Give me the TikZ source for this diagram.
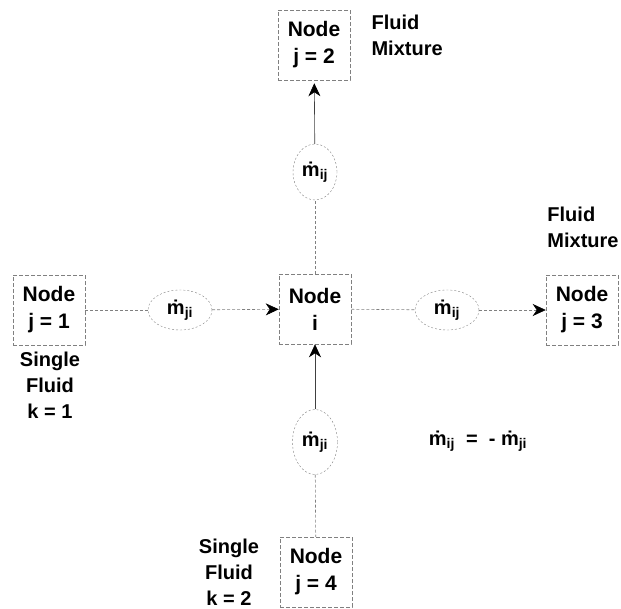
\documentclass[tikz,border=0pt]{standalone}
\usepackage{fontspec}
\setmainfont{Liberation Sans}
\usetikzlibrary{
    arrows.meta,
    shapes.geometric,
    positioning
}
\newcommand{\mflow}[1]{\.{m}\textsubscript{#1}}

\begin{document}
\begin{tikzpicture}[x=1pt, y=-1pt,
    box/.style={draw=gray, dash pattern=on 4pt off 2pt, line width=0.5pt, align=center,
        minimum width=72pt, minimum height=70pt, inner sep=2pt,
        font=\fontsize{21}{27}\selectfont\bfseries},
    flow/.style={draw=gray, dash pattern=on 2pt off 2pt, ellipse, inner sep=0pt,
        font=\fontsize{20}{22}\selectfont\bfseries},
    lbl/.style={align=center, font=\fontsize{20}{26}\selectfont\bfseries},
    pipe/.style={draw=gray, dash pattern=on 3pt off 2pt, line width=0.6pt},
    feed/.style={draw=black!75, line width=0.6pt},
    tip/.style={-{Stealth[black, length=13pt, width=12pt, inset=4pt]}}
]
    \useasboundingbox (0,0) rectangle (621,608);
    \node[box] (i) at (315,309) {Node\\i};
    \node[box] (j1) at (49,310) {Node\\j = 1};
    \node[box] (j2) at (314,45) {Node\\j = 2};
    \node[box] (j3) at (582,310) {Node\\j = 3};
    \node[box] (j4) at (316,572) {Node\\j = 4};
    \node[flow, minimum width=64pt, minimum height=40pt] (m1) at (180,310) {\mflow{ji}};
    \node[flow, minimum width=44pt, minimum height=56pt] (m2) at (315,172) {\mflow{ij}};
    \node[flow, minimum width=64pt, minimum height=40pt] (m3) at (447,310) {\mflow{ij}};
    \node[flow, minimum width=45pt, minimum height=65pt] (m4) at (315,442) {\mflow{ji}};
    \node[lbl, align=left, anchor=west] (fluid2) at (368,35) {Fluid\\Mixture};
    \node[lbl, align=left] (fluid3) at (583,227) {Fluid\\Mixture};
    \node[lbl] (single1) at (50,385) {Single\\Fluid\\k = 1};
    \node[lbl] (single4) at (229,572) {Single\\Fluid\\k = 2};
    \node[font=\fontsize{20}{22}\selectfont\bfseries] (eq) at (478,441) {\mflow{ij}\ \ =\ \ - \mflow{ji}};
    \draw[pipe] (j1) -- (m1);
    \draw[pipe, tip] (m1) -- (i);
    \draw[pipe] (i) -- (m3);
    \draw[pipe, tip] (m3) -- (j3);
    \draw[pipe] (i) -- (m2);
    \draw[feed, tip, shorten >=3pt] (m2) -- (j2);
    \draw[feed, tip] (m4) -- (i);
    \draw[pipe] (m4) -- (j4);
\end{tikzpicture}
\end{document}
